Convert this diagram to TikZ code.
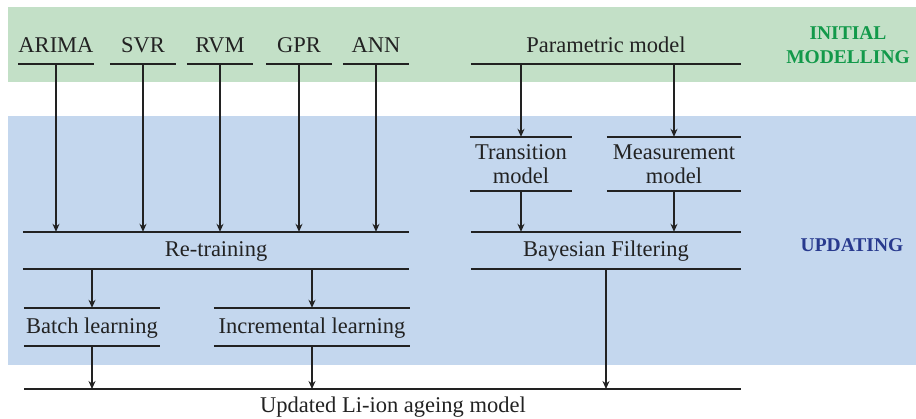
\documentclass[tikz,border=0pt]{standalone}
\usepackage{fontspec}
\setmainfont{Liberation Serif}
\usetikzlibrary{arrows.meta}
\definecolor{inkline}{HTML}{222222}
\definecolor{initfill}{HTML}{C3E0C7}
\definecolor{updfill}{HTML}{C4D7EE}
\definecolor{initink}{HTML}{12994A}
\definecolor{updink}{HTML}{283A8E}

\begin{document}
\begin{tikzpicture}[x=1pt,y=-1pt,
  every node/.style={font=\fontsize{22.5}{24}\selectfont, text=inkline, inner sep=0pt},
  rule/.style={draw=inkline, line width=1.5pt},
  flow/.style={draw=inkline, line width=1.3pt, -{Stealth[length=8pt,width=7pt]}},
  oneline/.style={text height=16pt, text depth=4pt},
  blk/.style 2 args={minimum width=#1, minimum height=#2},
  underrule/.style={append after command={(\tikzlastnode.south west) edge[rule] (\tikzlastnode.south east)}},
  bothrules/.style={append after command={(\tikzlastnode.north west) edge[rule] (\tikzlastnode.north east)
                                          (\tikzlastnode.south west) edge[rule] (\tikzlastnode.south east)}},
  phase/.style={font=\bfseries\fontsize{19.5}{24}\selectfont, align=center}
]
\useasboundingbox (0,0) rectangle (916,418);

% phase bands
\fill[initfill] (8,7) rectangle (916,82);
\fill[updfill] (8,116) rectangle (916,365);

% initial models
\node[oneline, blk={66pt}{36pt}, underrule] (arima) at (56,46) {ARIMA};
\node[oneline, blk={66pt}{36pt}, underrule] (svr) at (143,46) {SVR};
\node[oneline, blk={66pt}{36pt}, underrule] (rvm) at (220,46) {RVM};
\node[oneline, blk={66pt}{36pt}, underrule] (gpr) at (299,46) {GPR};
\node[oneline, blk={66pt}{36pt}, underrule] (ann) at (376,46) {ANN};
\node[oneline, blk={270pt}{36pt}, underrule] (param) at (606,46) {Parametric model};

% updating stage
\node[align=center, blk={102pt}{54pt}, bothrules] (trans) at (521,164) {Transition\\model};
\node[align=center, blk={134pt}{54pt}, bothrules] (meas) at (674,164) {Measurement\\model};
\node[oneline, blk={386pt}{37pt}, bothrules] (retrain) at (216,250.5) {Re-training};
\node[oneline, blk={270pt}{37pt}, bothrules] (bayes) at (606,250.5) {Bayesian Filtering};
\node[oneline, blk={136pt}{38pt}, bothrules] (batch) at (92,327) {Batch learning};
\node[oneline, blk={196pt}{38pt}, bothrules] (incr) at (312,327) {Incremental learning};

% output model
\coordinate (outL) at (24,389);
\coordinate (outR) at (741,389);
\draw[rule] (outL) -- (outR);
\node[anchor=base] (final) at (393,412) {Updated Li-ion ageing model};

% phase labels
\node[phase, text=initink] (initial) at (848,45) {INITIAL\\MODELLING};
\node[phase, text=updink] (updating) at (852,245) {UPDATING};

% connectors
\foreach \n in {arima,svr,rvm,gpr,ann}
  \draw[flow] (\n.south) -- (\n.south |- retrain.north);
\draw[flow] (param.south -| trans) -- (trans.north);
\draw[flow] (param.south -| meas) -- (meas.north);
\draw[flow] (trans.south) -- (trans.south |- bayes.north);
\draw[flow] (meas.south) -- (meas.south |- bayes.north);
\draw[flow] (retrain.south -| batch) -- (batch.north);
\draw[flow] (retrain.south -| incr) -- (incr.north);
\draw[flow] (batch.south) -- (batch.south |- outL);
\draw[flow] (incr.south) -- (incr.south |- outL);
\draw[flow] (bayes.south) -- (bayes.south |- outL);
\end{tikzpicture}
\end{document}
